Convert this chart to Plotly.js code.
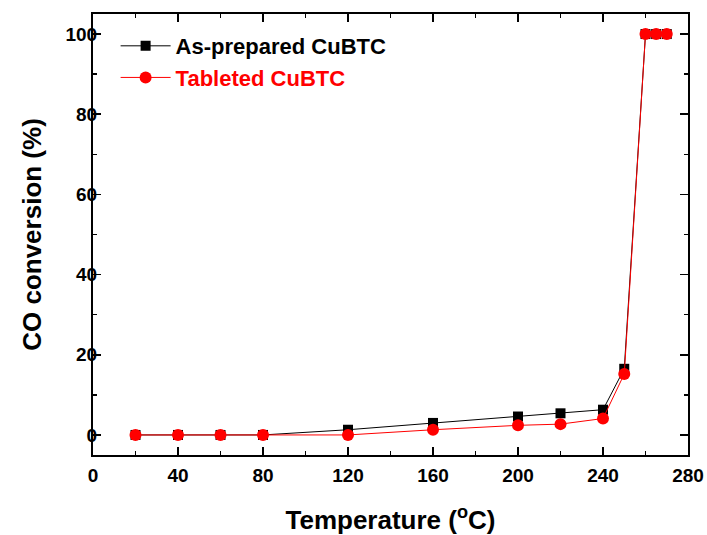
<!DOCTYPE html>
<html><head><meta charset="utf-8">
<script src="https://cdn.plot.ly/plotly-3.0.1.min.js"></script>
<style>html,body{margin:0;padding:0;background:#fff;}#c{width:707px;height:535px;}</style>
</head><body><div id="c"></div>
<script>
const temps = [20, 40, 60, 80, 120, 160, 200, 220, 240, 250, 260, 265, 270];
const asPrepared = [0, 0, 0, 0, 1.3, 3.0, 4.6, 5.4, 6.3, 16.5, 100, 100, 100];
const tableted = [0, 0, 0, 0, 0, 1.3, 2.4, 2.7, 4.1, 15.2, 100, 100, 100];
const seriesNames = ["As-prepared CuBTC", "Tableted CuBTC"];
const xTicks = [0, 40, 80, 120, 160, 200, 240, 280];
const yTicks = [0, 20, 40, 60, 80, 100];

const FONT = 'Liberation Sans, Arial, sans-serif';
const traces = [
  {x: temps, y: asPrepared, name: seriesNames[0], mode: 'lines+markers',
   line: {color: '#000', width: 1}, marker: {symbol: 'square', size: 10, color: '#000'}},
  {x: temps, y: tableted, name: '<span style="color:#ff0000">' + seriesNames[1] + '</span>', mode: 'lines+markers',
   line: {color: '#ff0000', width: 1}, marker: {symbol: 'circle', size: 12, color: '#ff0000'}}
];
const axisCommon = {
  showline: true, linecolor: '#000', linewidth: 2, mirror: 'ticks',
  ticks: 'inside', ticklen: 8, tickwidth: 1.5, tickcolor: '#000',
  showgrid: false, zeroline: false,
  tickfont: {family: FONT, size: 19, color: '#000', weight: 'bold'}
};
const layout = {
  width: 707, height: 535,
  margin: {l: 93, r: 19, t: 14, b: 80},
  paper_bgcolor: '#fff', plot_bgcolor: '#fff',
  showlegend: true,
  legend: {x: 0.038, y: 0.975, xanchor: 'left', yanchor: 'top', bgcolor: 'rgba(0,0,0,0)',
    font: {family: FONT, size: 22, color: '#000', weight: 'bold'},
    itemwidth: 50, tracegroupgap: 0},
  xaxis: Object.assign({}, axisCommon, {
    range: [0, 280], tickvals: xTicks, ticktext: xTicks.map(String),
    ticklabelstandoff: 2,
    minor: {dtick: 20, tick0: 0, ticks: 'inside', ticklen: 4, tickwidth: 1.5, tickcolor: '#000'},
    title: {text: 'Temperature (<sup>o</sup>C)', standoff: 26,
      font: {family: FONT, size: 26, color: '#000', weight: 'bold'}}
  }),
  yaxis: Object.assign({}, axisCommon, {
    range: [-5, 105], tickvals: yTicks, ticktext: yTicks.map(String),
    ticklabelstandoff: -10,
    minor: {dtick: 10, tick0: 0, ticks: 'inside', ticklen: 4, tickwidth: 1.5, tickcolor: '#000'},
    title: {text: 'CO conversion (%)', standoff: 16,
      font: {family: FONT, size: 26, color: '#000', weight: 'bold'}}
  })
};
Plotly.newPlot('c', traces, layout, {displayModeBar: false, staticPlot: true});
</script></body></html>
